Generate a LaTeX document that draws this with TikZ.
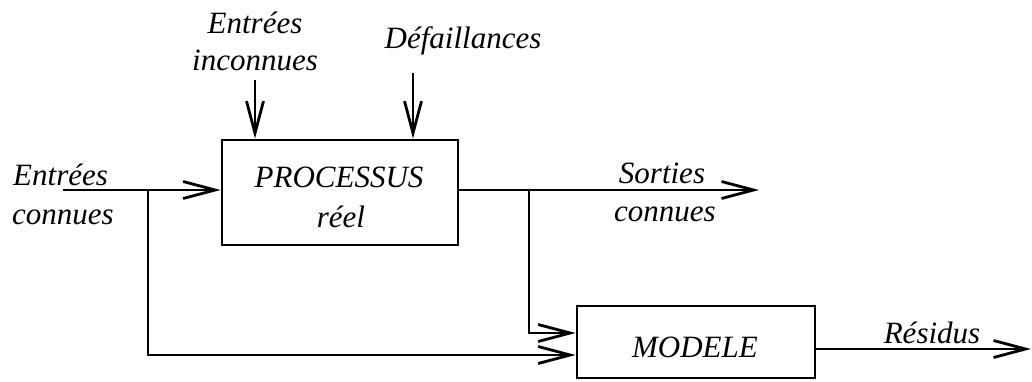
\documentclass[tikz,border=0pt]{standalone}
\usepackage{fontspec}
\setmainfont{Liberation Serif}
\usetikzlibrary{arrows.meta}
\begin{document}
\begin{tikzpicture}[x=1pt,y=-1pt,
  lbl/.style={font=\fontsize{31}{37}\selectfont\itshape, inner sep=0pt, anchor=base},
  blk/.style={draw, line width=2.8pt, inner sep=0pt},
  wire/.style={line width=2.8pt},
  arr/.style={wire, -{Straight Barb[length=32pt,width=17pt,line width=2.8pt]}}]
\useasboundingbox (0,0) rectangle (1032,381);

% blocks
\node[blk, minimum width=236pt, minimum height=105pt] (proc) at (340,192.5) {};
\node[blk, minimum width=238pt, minimum height=72pt] (mod) at (696,342) {};

% texts
\node[lbl] (tproc) at (339,187) {PROCESSUS};
\node[lbl] (treel) at (341,227) {réel};
\node[lbl] (tmod) at (695,357) {MODELE};
\node[lbl] (tei1) at (255,33) {Entrées};
\node[lbl] (tei2) at (255,70) {inconnues};
\node[lbl] (tdef) at (463,48) {Défaillances};
\node[lbl, anchor=base west] (tec1) at (13,185) {Entrées};
\node[lbl, anchor=base west] (tec2) at (12,224) {connues};
\node[lbl] (tsc1) at (662,183) {Sorties};
\node[lbl] (tsc2) at (665,221) {connues};
\node[lbl] (tres) at (932,343) {Résidus};

% coordinates
\coordinate (ti) at (255,80);
\coordinate (td) at (413,73);
\coordinate (ein) at (63,190);
\coordinate (b1) at (148,190);
\coordinate (b2) at (529,190);
\coordinate (sout) at (759,190);
\coordinate (res) at (1031,349);

% connectors
\draw[arr] (ti) -- (ti |- proc.north);
\draw[arr] (td) -- (td |- proc.north);
\draw[arr] (ein) -- (ein -| proc.west);
\draw[arr] (sout -| proc.east) -- (sout);
\draw[arr] (b1) |- ([yshift=-13pt]mod.west);
\draw[arr] (b2) |- ([yshift=9pt]mod.west);
\draw[arr] ([yshift=-7pt]mod.east) -- (res);
\end{tikzpicture}
\end{document}
